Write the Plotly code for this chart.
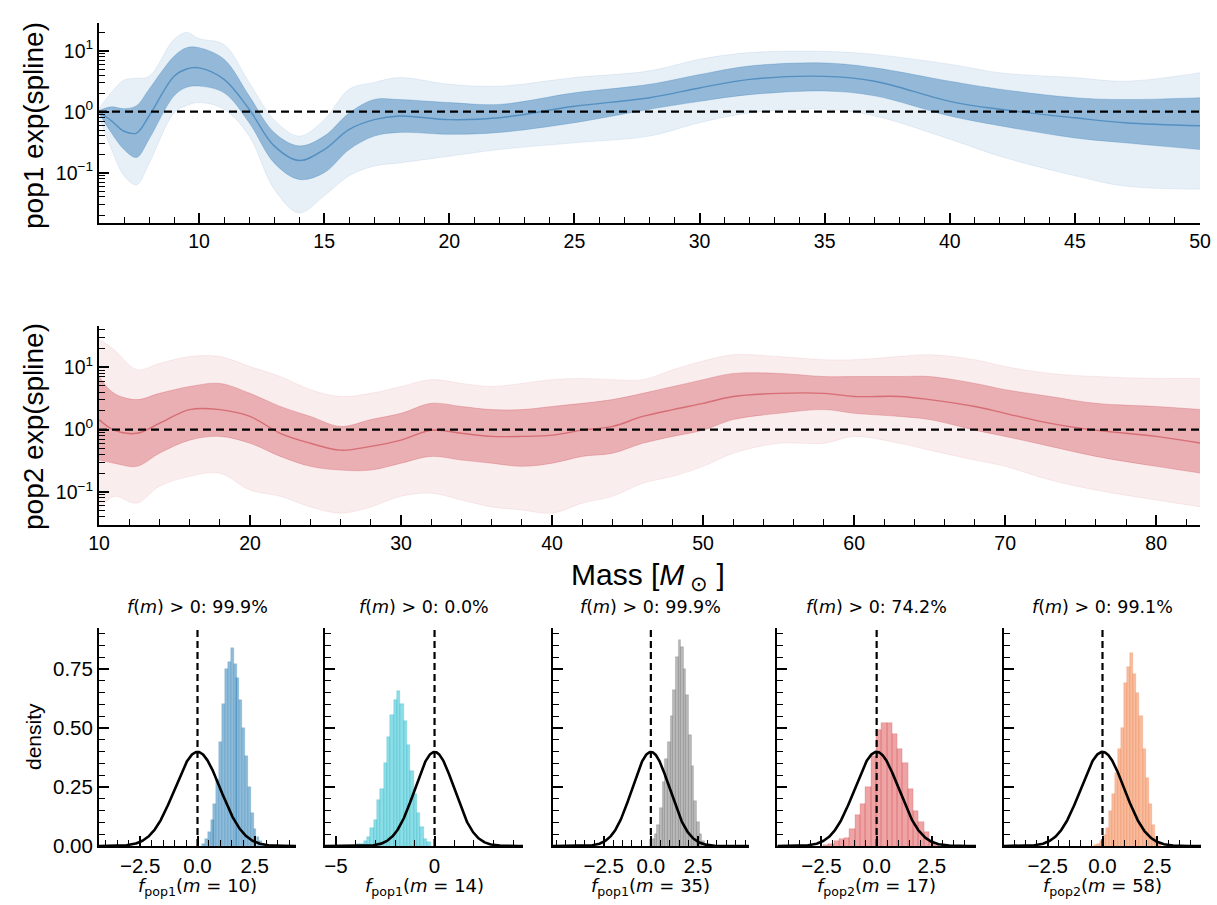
import numpy as np
import plotly.graph_objects as go

W, H = 1217, 905

# ---------------- pop1 spline posterior draws (log10 of exp(spline)) ----------------
pop1_mass = [6, 6.5, 7, 7.5, 8, 9, 9.5, 10, 11, 12, 13, 14, 15, 16, 17, 18, 20, 22, 25,
             28, 30, 32, 35, 37, 40, 42, 45, 47, 50]
pop1_hi_outer = [0.05, 0.32, 0.52, 0.55, 0.58, 1.19, 1.30, 1.20, 1.10, 0.48, -0.13, -0.40, -0.13,
                 0.37, 0.48, 0.56, 0.45, 0.42, 0.56, 0.67, 0.86, 0.97, 0.99, 0.94, 0.78, 0.64,
                 0.56, 0.50, 0.64]
pop1_hi_inner = [0.02, 0.08, 0.05, 0.10, 0.37, 0.91, 1.05, 1.05, 0.86, 0.26, -0.34, -0.56, -0.40,
                 -0.02, 0.20, 0.20, 0.15, 0.12, 0.31, 0.45, 0.61, 0.75, 0.80, 0.72, 0.50, 0.37,
                 0.23, 0.20, 0.23]
pop1_median = [0.00, -0.15, -0.32, -0.35, -0.07, 0.58, 0.70, 0.72, 0.53, 0.04, -0.56, -0.80,
               -0.62, -0.29, -0.13, -0.07, -0.13, -0.10, 0.09, 0.23, 0.39, 0.53, 0.58, 0.50,
               0.17, 0.04, -0.10, -0.18, -0.23]
pop1_lo_inner = [-0.03, -0.35, -0.62, -0.75, -0.45, 0.26, 0.40, 0.42, 0.31, -0.18, -0.84, -1.11,
                 -1.00, -0.62, -0.40, -0.34, -0.37, -0.34, -0.18, 0.04, 0.17, 0.28, 0.34, 0.26,
                 -0.07, -0.23, -0.43, -0.51, -0.62]
pop1_lo_outer = [-0.08, -0.62, -1.05, -1.20, -0.85, -0.02, 0.10, 0.15, 0.04, -0.40, -1.27, -1.66,
                 -1.38, -1.05, -0.89, -0.84, -0.73, -0.62, -0.51, -0.40, -0.18, -0.02, 0.04,
                 -0.07, -0.45, -0.73, -1.05, -1.22, -1.27]

# ---------------- pop2 spline posterior draws (log10 of exp(spline)) ----------------
pop2_mass = [10, 11, 12.5, 14, 16, 18, 20, 22, 24, 26, 28, 30, 32, 34, 36, 38, 40, 42, 44,
             46, 48, 50, 52, 55, 58, 60, 63, 65, 68, 70, 73, 76, 80, 83]
pop2_hi_outer = [1.45, 1.28, 0.96, 1.06, 1.17, 1.17, 1.01, 0.85, 0.64, 0.53, 0.58, 0.69, 0.80,
                 0.74, 0.69, 0.74, 0.80, 0.82, 0.80, 0.80, 0.96, 1.10, 1.20, 1.17, 1.12, 1.12,
                 1.17, 1.20, 1.12, 1.01, 0.90, 0.85, 0.82, 0.82]
pop2_hi_inner = [0.85, 0.58, 0.48, 0.58, 0.69, 0.74, 0.58, 0.37, 0.21, 0.05, 0.16, 0.26, 0.42,
                 0.37, 0.32, 0.32, 0.37, 0.42, 0.48, 0.58, 0.69, 0.80, 0.90, 0.90, 0.85, 0.85,
                 0.85, 0.85, 0.74, 0.64, 0.53, 0.42, 0.37, 0.32]
pop2_median = [0.16, -0.01, -0.06, 0.10, 0.32, 0.32, 0.21, -0.06, -0.22, -0.33, -0.27, -0.17,
               -0.01, -0.06, -0.11, -0.11, -0.09, -0.01, 0.05, 0.21, 0.32, 0.42, 0.53, 0.58,
               0.58, 0.53, 0.53, 0.48, 0.37, 0.26, 0.10, -0.01, -0.11, -0.22]
pop2_lo_inner = [-0.49, -0.54, -0.59, -0.38, -0.17, -0.11, -0.22, -0.43, -0.59, -0.65, -0.65,
                 -0.54, -0.43, -0.49, -0.54, -0.59, -0.54, -0.43, -0.38, -0.22, -0.11, -0.01,
                 0.16, 0.26, 0.32, 0.26, 0.21, 0.16, -0.01, -0.11, -0.27, -0.43, -0.59, -0.70]
pop2_lo_outer = [-1.29, -1.07, -1.18, -0.91, -0.75, -0.70, -0.97, -1.07, -1.24, -1.34, -1.24,
                 -1.07, -1.02, -1.13, -1.24, -1.29, -1.34, -1.18, -1.07, -0.86, -0.75, -0.59,
                 -0.38, -0.22, -0.22, -0.11, -0.22, -0.33, -0.49, -0.59, -0.81, -0.97, -1.13,
                 -1.24]

# ---------------- posterior histograms of f at fixed masses (density) ----------------
h1_centers = [0.26, 0.39, 0.51, 0.64, 0.76, 0.89, 1.01, 1.14, 1.26, 1.39, 1.51, 1.64, 1.76,
              1.89, 2.01, 2.14, 2.26, 2.39, 2.51, 2.64, 2.76, 2.89]
h1_heights = [0.01, 0.03, 0.06, 0.11, 0.18, 0.28, 0.44, 0.60, 0.75, 0.78, 0.84, 0.77, 0.71,
              0.62, 0.50, 0.38, 0.25, 0.14, 0.07, 0.04, 0.02, 0.01]
h2_centers = [-3.86, -3.69, -3.52, -3.35, -3.18, -3.01, -2.84, -2.67, -2.50, -2.33, -2.16,
              -1.99, -1.82, -1.65, -1.48, -1.31, -1.14, -0.97, -0.80, -0.63, -0.46, -0.29]
h2_heights = [0.01, 0.01, 0.02, 0.04, 0.075, 0.11, 0.195, 0.24, 0.35, 0.46, 0.555, 0.62, 0.655,
              0.60, 0.53, 0.43, 0.32, 0.22, 0.14, 0.08, 0.03, 0.015]
h3_centers = [0.12, 0.26, 0.40, 0.54, 0.68, 0.82, 0.96, 1.10, 1.24, 1.38, 1.52, 1.66, 1.80,
              1.94, 2.08, 2.22, 2.36, 2.50, 2.64, 2.78, 2.92]
h3_heights = [0.03, 0.05, 0.09, 0.16, 0.27, 0.37, 0.44, 0.55, 0.66, 0.80, 0.875, 0.845, 0.75,
              0.64, 0.47, 0.34, 0.19, 0.10, 0.05, 0.02, 0.01]
h4_centers = [-2.30, -2.06, -1.82, -1.58, -1.34, -1.10, -0.86, -0.62, -0.38, -0.14, 0.10, 0.34,
              0.58, 0.82, 1.06, 1.30, 1.54, 1.78, 2.02, 2.26, 2.50, 2.74]
h4_heights = [0.005, 0.01, 0.02, 0.03, 0.035, 0.07, 0.13, 0.18, 0.25, 0.38, 0.49, 0.52, 0.52,
              0.475, 0.41, 0.35, 0.24, 0.15, 0.10, 0.06, 0.02, 0.005]
h5_centers = [-0.34, -0.20, -0.06, 0.08, 0.22, 0.36, 0.50, 0.64, 0.78, 0.92, 1.06, 1.20, 1.34,
              1.48, 1.62, 1.76, 1.90, 2.04, 2.18, 2.32, 2.46, 2.60]
h5_heights = [0.005, 0.007, 0.02, 0.045, 0.075, 0.15, 0.22, 0.31, 0.41, 0.50, 0.69, 0.76, 0.82,
              0.73, 0.65, 0.55, 0.41, 0.29, 0.18, 0.09, 0.04, 0.01]
bin_widths = [0.125, 0.17, 0.14, 0.24, 0.14]

hist_titles = ["99.9%", "0.0%", "99.9%", "74.2%", "99.1%"]
hist_pops = ["pop1", "pop1", "pop1", "pop2", "pop2"]
hist_masses = [10, 14, 35, 17, 58]
hist_ranges = [[-4.3, 4.3], [-5.56, 4.49], [-5.2, 5.2], [-4.5, 4.5], [-4.5, 4.5]]
hist_tickvals = [[-2.5, 0, 2.5], [-5, 0], [-2.5, 0, 2.5], [-2.5, 0, 2.5], [-2.5, 0, 2.5]]
hist_ticktext = [["−2.5", "0.0", "2.5"], ["−5", "0"], ["−2.5", "0.0", "2.5"],
                 ["−2.5", "0.0", "2.5"], ["−2.5", "0.0", "2.5"]]
hist_minor = [0.5, 1.0, 0.5, 0.5, 0.5]
hist_fill = ["rgba(31,119,180,0.5)", "rgba(23,190,207,0.5)", "rgba(127,127,127,0.55)",
             "rgba(214,39,40,0.42)", "rgba(240,120,60,0.5)"]
hist_edge = ["rgba(31,119,180,0.35)", "rgba(23,170,190,0.45)", "rgba(100,100,100,0.45)",
             "rgba(200,40,50,0.4)", "rgba(235,110,50,0.4)"]

# standard-normal prior drawn on top of each histogram
prior_mean, prior_sd = 0.0, 1.0
density_top = 0.924

# ---------------- figure geometry (pixels) ----------------
def fx(p):
    return p / W


def fy(p):
    return 1 - p / H


TICKFONT = dict(family="Liberation Sans, Arial, sans-serif", size=19.5, color="black")
HISTTICKFONT = dict(family="Liberation Sans, Arial, sans-serif", size=20.5, color="black")
MATHFONT = dict(family="DejaVu Sans, sans-serif", size=17.5, color="black")

fig = go.Figure()


def spaghetti(xa, ya, mass, hi_o, hi_i, med, lo_i, lo_o, rgb, a_out, a_in):
    def ln(v):
        return [10 ** t for t in v]
    common = dict(x=mass, xaxis=xa, yaxis=ya, mode="lines", hoverinfo="skip",
                  line_shape="spline")
    fig.add_trace(go.Scatter(y=ln(lo_o), line=dict(width=0.6, color=f"rgba({rgb},0.15)"), **common))
    fig.add_trace(go.Scatter(y=ln(hi_o), line=dict(width=0.6, color=f"rgba({rgb},0.15)"),
                             fill="tonexty", fillcolor=f"rgba({rgb},{a_out})", **common))
    fig.add_trace(go.Scatter(y=ln(lo_i), line=dict(width=0.8, color=f"rgba({rgb},0.3)"), **common))
    fig.add_trace(go.Scatter(y=ln(hi_i), line=dict(width=0.8, color=f"rgba({rgb},0.3)"),
                             fill="tonexty", fillcolor=f"rgba({rgb},{a_in})", **common))
    fig.add_trace(go.Scatter(y=ln(med), line=dict(width=1.4, color=f"rgba({rgb},0.55)"), **common))
    fig.add_trace(go.Scatter(x=[mass[0], mass[-1]], y=[1, 1], xaxis=xa, yaxis=ya, mode="lines",
                             line=dict(color="black", width=2.2, dash="8px,5px"),
                             hoverinfo="skip"))


spaghetti("x", "y", pop1_mass, pop1_hi_outer, pop1_hi_inner, pop1_median, pop1_lo_inner,
          pop1_lo_outer, "31,110,175", 0.10, 0.42)
spaghetti("x2", "y2", pop2_mass, pop2_hi_outer, pop2_hi_inner, pop2_median, pop2_lo_inner,
          pop2_lo_outer, "200,55,65", 0.09, 0.34)

hist_centers = [h1_centers, h2_centers, h3_centers, h4_centers, h5_centers]
hist_heights = [h1_heights, h2_heights, h3_heights, h4_heights, h5_heights]

for i in range(5):
    xa, ya = f"x{i + 3}", f"y{i + 3}"
    fig.add_trace(go.Bar(x=hist_centers[i], y=hist_heights[i], width=bin_widths[i],
                         marker=dict(color=hist_fill[i], line=dict(color=hist_edge[i], width=0.5)),
                         xaxis=xa, yaxis=ya, hoverinfo="skip"))
    lo, hi = hist_ranges[i]
    xs = np.linspace(lo, hi, 400)
    pdf = np.exp(-0.5 * ((xs - prior_mean) / prior_sd) ** 2) / (prior_sd * np.sqrt(2 * np.pi))
    fig.add_trace(go.Scatter(x=xs, y=pdf, mode="lines", line=dict(color="black", width=2.6),
                             xaxis=xa, yaxis=ya, hoverinfo="skip"))
    fig.add_trace(go.Scatter(x=[0, 0], y=[0, density_top], mode="lines",
                             line=dict(color="black", width=2.2, dash="7px,4px"),
                             xaxis=xa, yaxis=ya, hoverinfo="skip"))

axis_common = dict(showline=True, linecolor="black", linewidth=2, ticks="inside",
                   tickcolor="black", tickwidth=1.5, ticklen=10, showgrid=False,
                   zeroline=False, tickfont=TICKFONT, automargin=False)
hist_axis = dict(axis_common, tickfont=HISTTICKFONT)

layout = dict(width=W, height=H, margin=dict(l=0, r=0, t=0, b=0, autoexpand=False),
              plot_bgcolor="white", paper_bgcolor="white", showlegend=False, bargap=0)

# spaghetti panels
log_minor_top = [m * 10 ** e for e in (-2, -1, 0, 1) for m in range(2, 10)]
layout["xaxis"] = dict(domain=[fx(99), fx(1200)], range=[6, 50], anchor="y",
                       tickvals=[10, 15, 20, 25, 30, 35, 40, 45, 50],
                       minor=dict(ticks="inside", dtick=1, tick0=0, ticklen=6, tickwidth=1.2,
                                  tickcolor="black"), **axis_common)
layout["yaxis"] = dict(domain=[fy(222.7), fy(22.7)], type="log", range=[-1.82, 1.46], anchor="x",
                       tickvals=[0.1, 1, 10],
                       ticktext=["10<sup>−1</sup>", "10<sup>0</sup>", "10<sup>1</sup>"],
                       minor=dict(ticks="inside", tickvals=log_minor_top, ticklen=6,
                                  tickwidth=1.2, tickcolor="black"), **axis_common)
layout["xaxis2"] = dict(domain=[fx(99), fx(1200)], range=[10, 82.9], anchor="y2",
                        tickvals=[10, 20, 30, 40, 50, 60, 70, 80],
                        minor=dict(ticks="inside", dtick=2, tick0=0, ticklen=6, tickwidth=1.2,
                                   tickcolor="black"), **axis_common)
layout["yaxis2"] = dict(domain=[fy(525), fy(326)], type="log", range=[-1.53, 1.66], anchor="x2",
                        tickvals=[0.1, 1, 10],
                        ticktext=["10<sup>−1</sup>", "10<sup>0</sup>", "10<sup>1</sup>"],
                        minor=dict(ticks="inside", tickvals=log_minor_top, ticklen=6,
                                   tickwidth=1.2, tickcolor="black"), **axis_common)

hist_px = [(99, 296), (325, 523), (552.7, 749), (777.3, 976), (1004, 1201)]
for i in range(5):
    n = i + 3
    x0, x1 = hist_px[i]
    layout[f"xaxis{n}"] = dict(domain=[fx(x0), fx(x1)], range=hist_ranges[i], anchor=f"y{n}",
                               tickvals=hist_tickvals[i], ticktext=hist_ticktext[i],
                               minor=dict(ticks="inside", dtick=hist_minor[i], tick0=0, ticklen=6,
                                          tickwidth=1.2, tickcolor="black"), **hist_axis)
    layout[f"yaxis{n}"] = dict(domain=[fy(846), fy(628)], range=[0, density_top], anchor=f"x{n}",
                               tickvals=[0, 0.25, 0.5, 0.75],
                               ticktext=["0.00", "0.25", "0.50", "0.75"],
                               showticklabels=(i == 0),
                               minor=dict(ticks="inside", dtick=0.05, tick0=0, ticklen=6,
                                          tickwidth=1.2, tickcolor="black"), **hist_axis)

ann = []
TITLEFONT = dict(family="Liberation Sans, Arial, sans-serif", size=28, color="black")
ann.append(dict(text="pop1 exp(spline)", x=fx(33), y=fy(126), textangle=-90, font=TITLEFONT))
ann.append(dict(text="pop2 exp(spline)", x=fx(33), y=fy(427), textangle=-90, font=TITLEFONT))
ann.append(dict(text="Mass [<i>M</i><sub> ⊙</sub> ]", x=fx(648), y=fy(576),
                font=dict(TITLEFONT, size=30)))
ann.append(dict(text="density", x=fx(33), y=fy(737), textangle=-90,
                font=dict(family="Liberation Sans, Arial, sans-serif", size=21, color="black")))
for i in range(5):
    cx = fx((hist_px[i][0] + hist_px[i][1]) / 2)
    ann.append(dict(text=f"<i>f</i>(<i>m</i>) > 0: {hist_titles[i]}", x=cx, y=fy(607),
                    font=MATHFONT))
    ann.append(dict(text=f"<i>f</i><sub>{hist_pops[i]}</sub>(<i>m</i> = {hist_masses[i]})",
                    x=cx, y=fy(887), font=dict(MATHFONT, size=18)))
for a in ann:
    a.update(xref="paper", yref="paper", showarrow=False, xanchor="center", yanchor="middle")
layout["annotations"] = ann

fig.update_layout(**layout)
fig.write_html("out.html", post_script="document.body.style.margin='0';")
